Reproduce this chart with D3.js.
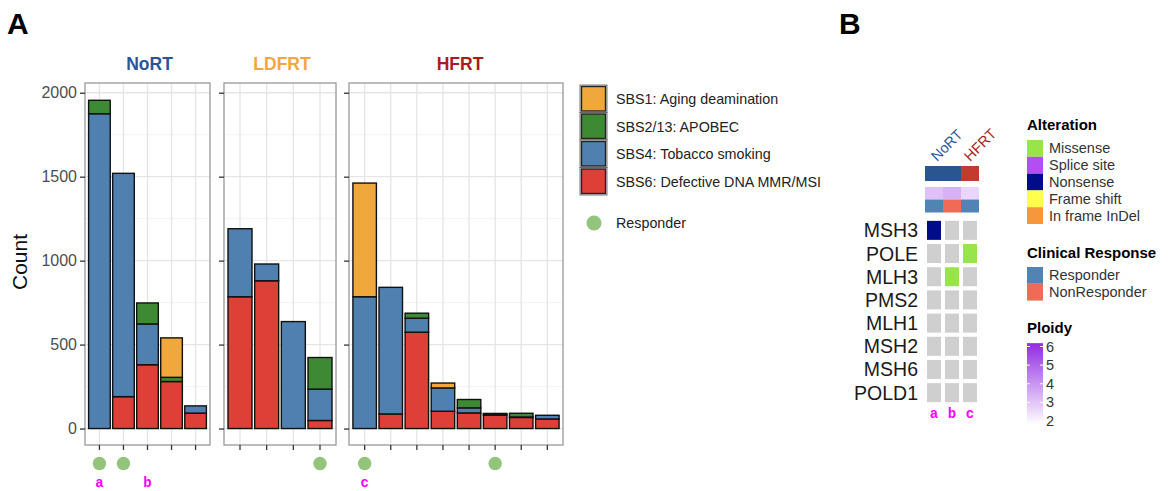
<!DOCTYPE html>
<html>
<head>
<meta charset="utf-8">
<script src="https://cdn.jsdelivr.net/npm/d3@7"></script>
<style>
  body { margin: 0; background: #fff; }
  text { font-family: "Liberation Sans", Arial, sans-serif; }
  .mono { font-family: "Liberation Mono", "DejaVu Sans Mono", monospace; font-weight: bold; }
</style>
</head>
<body>
<svg id="chart" width="1173" height="491"></svg>
<script>
// ---- panel A data ----
var groups = ["NoRT", "LDFRT", "HFRT"];
var samples = ["N1", "N2", "N3", "N4", "N5", "L1", "L2", "L3", "L4",
               "H1", "H2", "H3", "H4", "H5", "H6", "H7", "H8"];
var sampleGroup = ["NoRT", "NoRT", "NoRT", "NoRT", "NoRT",
                   "LDFRT", "LDFRT", "LDFRT", "LDFRT",
                   "HFRT", "HFRT", "HFRT", "HFRT", "HFRT", "HFRT", "HFRT", "HFRT"];
var sbs6    = [0, 190, 380, 280, 92,   785, 880, 0, 48,    0, 87, 574, 103, 93, 80, 66, 57];
var sbs4    = [1875, 1330, 243, 0, 43, 405, 100, 637, 187, 785, 754, 83, 139, 30, 5, 3, 22];
var sbs2_13 = [80, 0, 125, 25, 0,      0, 0, 0, 188,       0, 0, 30, 0, 50, 5, 22, 0];
var sbs1    = [0, 0, 0, 235, 0,        0, 0, 0, 0,         677, 0, 0, 29, 0, 0, 0, 0];
var responder  = [1, 1, 0, 0, 0,  0, 0, 0, 1,  1, 0, 0, 0, 0, 1, 0, 0];
var sampleTags = ["a", "", "b", "", "",  "", "", "", "",  "c", "", "", "", "", "", "", ""];
var signatureLabels = ["SBS1: Aging deamination", "SBS2/13: APOBEC",
                       "SBS4: Tobacco smoking", "SBS6: Defective DNA MMR/MSI"];
var yTicks = [0, 500, 1000, 1500, 2000];

// ---- panel B data ----
var genes = ["MSH3", "POLE", "MLH3", "PMS2", "MLH1", "MSH2", "MSH6", "POLD1"];
var cases = ["a", "b", "c"];
var caseGroup = ["NoRT", "NoRT", "HFRT"];
var casePloidy = [3.2, 3.5, 2.8];
var caseResponse = ["Responder", "NonResponder", "Responder"];
var altGene = ["MSH3", "POLE", "MLH3"];
var altCase = ["a", "c", "b"];
var altType = ["Nonsense", "Missense", "Missense"];
var alterationTypes = ["Missense", "Splice site", "Nonsense", "Frame shift", "In frame InDel"];
var responseTypes = ["Responder", "NonResponder"];
var ploidyTicks = [2, 3, 4, 5, 6];

// colours
var sigColors = ["#F0A83C", "#3E8A34", "#5080B0", "#DE4037"]; // SBS1, SBS2/13, SBS4, SBS6
var groupColors = {NoRT: "#2B5597", LDFRT: "#F5A442", HFRT: "#A81C1C"};
var annGroupColors = {NoRT: "#2A5690", HFRT: "#C23B2F"};
var altColors = ["#97E54A", "#B44EF2", "#000C8A", "#FFFF4D", "#F5973D"];
var respColors = ["#5283B5", "#EE6C55"];
var dotColor = "#92C47C";

var svg = d3.select("#chart");

// ================= PANEL A =================
svg.append("text").attr("x", 7).attr("y", 34)
  .attr("font-size", 30).attr("font-weight", "bold").text("A");

var table = samples.map(function(s, i) {
  return {sample: s, group: sampleGroup[i], responder: responder[i], tag: sampleTags[i],
          sbs6: sbs6[i], sbs4: sbs4[i], sbs2_13: sbs2_13[i], sbs1: sbs1[i]};
});
var stackKeys = ["sbs6", "sbs4", "sbs2_13", "sbs1"];
var keyColor = {sbs6: sigColors[3], sbs4: sigColors[2], sbs2_13: sigColors[1], sbs1: sigColors[0]};
var series = d3.stack().keys(stackKeys)(table);

var panelTop = 83, panelBottom = 445;
var y = d3.scaleLinear().domain([-98, 2058]).range([panelBottom, panelTop]);
var panelX = {NoRT: [85, 210], LDFRT: [224, 336], HFRT: [349, 563]};

groups.forEach(function(g, gi) {
  var ext = panelX[g];
  var gSamples = table.filter(function(d) { return d.group == g; });
  var x = d3.scaleBand().domain(gSamples.map(function(d) { return d.sample; }))
    .range(ext).paddingInner(0.1).paddingOuter(0.15);

  var p = svg.append("g");

  // grid
  var minor = [250, 750, 1250, 1750];
  p.selectAll(".minor").data(minor).enter().append("line")
    .attr("x1", ext[0]).attr("x2", ext[1])
    .attr("y1", function(d) { return y(d); }).attr("y2", function(d) { return y(d); })
    .attr("stroke", "#f0f0f0").attr("stroke-width", 0.8);
  p.selectAll(".major").data(yTicks).enter().append("line")
    .attr("x1", ext[0]).attr("x2", ext[1])
    .attr("y1", function(d) { return y(d); }).attr("y2", function(d) { return y(d); })
    .attr("stroke", "#e5e5e5").attr("stroke-width", 1.3);
  p.selectAll(".vgrid").data(gSamples).enter().append("line")
    .attr("x1", function(d) { return x(d.sample) + x.bandwidth() / 2; })
    .attr("x2", function(d) { return x(d.sample) + x.bandwidth() / 2; })
    .attr("y1", panelTop).attr("y2", panelBottom)
    .attr("stroke", "#e5e5e5").attr("stroke-width", 1.3);

  // bars
  series.forEach(function(s) {
    var segs = s.filter(function(d) { return d.data.group == g && d[1] - d[0] > 0; });
    p.selectAll(".seg-" + s.key).data(segs).enter().append("rect")
      .attr("x", function(d) { return x(d.data.sample); })
      .attr("width", x.bandwidth())
      .attr("y", function(d) { return y(d[1]); })
      .attr("height", function(d) { return y(d[0]) - y(d[1]); })
      .attr("fill", keyColor[s.key])
      .attr("stroke", "#111").attr("stroke-width", 1.4);
  });

  // border
  p.append("rect").attr("x", ext[0]).attr("y", panelTop)
    .attr("width", ext[1] - ext[0]).attr("height", panelBottom - panelTop)
    .attr("fill", "none").attr("stroke", "#999").attr("stroke-width", 1.3);

  // axes
  var ya = p.append("g").attr("transform", "translate(" + ext[0] + ",0)")
    .call(d3.axisLeft(y).tickValues(yTicks).tickSize(5).tickPadding(3)
      .tickFormat(gi == 0 ? d3.format("d") : function() { return ""; }));
  ya.select(".domain").remove();
  ya.selectAll("line").attr("stroke", "#333").attr("stroke-width", 1.3);
  ya.selectAll("text").attr("fill", "#4d4d4d").attr("font-size", 16)
    .attr("font-family", "Liberation Sans, Arial, sans-serif");

  var xa = p.append("g").attr("transform", "translate(0," + panelBottom + ")")
    .call(d3.axisBottom(x).tickSize(5).tickFormat(""));
  xa.select(".domain").remove();
  xa.selectAll("line").attr("stroke", "#333").attr("stroke-width", 1.3);

  // strip label
  p.append("text").attr("x", (ext[0] + ext[1]) / 2 + (g == "HFRT" ? 4 : 2)).attr("y", 70)
    .attr("text-anchor", "middle").attr("font-size", 17.5).attr("font-weight", "bold")
    .attr("fill", groupColors[g]).text(g);

  // responder dots and tags
  p.selectAll(".dot").data(gSamples.filter(function(d) { return d.responder == 1; }))
    .enter().append("circle")
    .attr("cx", function(d) { return x(d.sample) + x.bandwidth() / 2; })
    .attr("cy", 463.5).attr("r", 6.7).attr("fill", dotColor);
  p.selectAll(".tag").data(gSamples.filter(function(d) { return d.tag != ""; }))
    .enter().append("text").attr("class", "mono")
    .attr("x", function(d) { return x(d.sample) + x.bandwidth() / 2; })
    .attr("y", 487).attr("text-anchor", "middle").attr("font-size", 14)
    .attr("fill", "#FF00FF").text(function(d) { return d.tag; });
});

// y title
svg.append("text").attr("transform", "translate(27,262) rotate(-90)")
  .attr("text-anchor", "middle").attr("font-size", 21).attr("fill", "#111").text("Count");

// legend A
var legA = svg.append("g").attr("transform", "translate(580,85)");
signatureLabels.forEach(function(lbl, i) {
  legA.append("rect").attr("x", 0).attr("y", i * 27.5).attr("width", 27).attr("height", 27.5)
    .attr("fill", "#f2f2f2").attr("stroke", "#555").attr("stroke-width", 0.8);
  legA.append("rect").attr("x", 1.5).attr("y", i * 27.5 + 1.5).attr("width", 24).attr("height", 24.5)
    .attr("fill", sigColors[i]).attr("stroke", "#222").attr("stroke-width", 1.4);
  legA.append("text").attr("x", 36).attr("y", i * 27.5 + 14).attr("dy", "0.35em")
    .attr("font-size", 14.3).attr("fill", "#222").text(lbl);
});
legA.append("circle").attr("cx", 14).attr("cy", 138).attr("r", 7.5).attr("fill", dotColor);
legA.append("text").attr("x", 36).attr("y", 138).attr("dy", "0.35em")
  .attr("font-size", 14.3).attr("fill", "#222").text("Responder");

// ================= PANEL B =================
svg.append("text").attr("x", 839).attr("y", 34)
  .attr("font-size", 30).attr("font-weight", "bold").text("B");

var xc = d3.scaleBand().domain(cases).range([925, 979]);
var yg = d3.scaleBand().domain(genes).range([219, 404]).paddingInner(0.18).paddingOuter(0.08);

// group header labels
var headGroups = ["NoRT", "HFRT"];
headGroups.forEach(function(g) {
  var idx = caseGroup.indexOf(g);
  var x0 = xc(cases[idx]) + (g == "NoRT" ? 12 : 9);
  svg.append("text").attr("transform", "translate(" + x0 + ",162) rotate(-45)")
    .attr("font-size", 14.5).attr("fill", groupColors[g]).text(g);
});

// annotation rows
var ploidyColor = d3.scaleLinear().domain([2, 6]).range(["#ffffff", "#9530E4"]);
cases.forEach(function(c, i) {
  svg.append("rect").attr("x", xc(c)).attr("y", 166).attr("width", xc.bandwidth()).attr("height", 15)
    .attr("fill", annGroupColors[caseGroup[i]]);
  svg.append("rect").attr("x", xc(c)).attr("y", 187).attr("width", xc.bandwidth()).attr("height", 12.5)
    .attr("fill", ploidyColor(casePloidy[i]));
  svg.append("rect").attr("x", xc(c)).attr("y", 199.5).attr("width", xc.bandwidth()).attr("height", 13)
    .attr("fill", respColors[responseTypes.indexOf(caseResponse[i])]);
});

// heatmap cells
genes.forEach(function(gname) {
  cases.forEach(function(c) {
    var fill = "#CFCFCF";
    for (var k = 0; k < altGene.length; k++) {
      if (altGene[k] == gname && altCase[k] == c) fill = altColors[alterationTypes.indexOf(altType[k])];
    }
    svg.append("rect").attr("x", xc(c) + 2).attr("y", yg(gname))
      .attr("width", xc.bandwidth() - 4).attr("height", yg.bandwidth()).attr("fill", fill);
  });
  svg.append("text").attr("x", 918).attr("y", yg(gname) + yg.bandwidth() / 2).attr("dy", "0.36em")
    .attr("text-anchor", "end").attr("font-size", 19.5).attr("fill", "#1a1a1a").text(gname);
});
cases.forEach(function(c) {
  svg.append("text").attr("class", "mono").attr("x", xc(c) + xc.bandwidth() / 2).attr("y", 418)
    .attr("text-anchor", "middle").attr("font-size", 14).attr("fill", "#FF00FF").text(c);
});

// legend B
var legB = svg.append("g").attr("transform", "translate(1027,0)");
legB.append("text").attr("x", 0).attr("y", 130).attr("font-size", 15).attr("font-weight", "bold").text("Alteration");
alterationTypes.forEach(function(t, i) {
  legB.append("rect").attr("x", 0).attr("y", 140 + i * 16.8).attr("width", 16).attr("height", 16.8)
    .attr("fill", altColors[i]);
  legB.append("text").attr("x", 22).attr("y", 148.4 + i * 16.8).attr("dy", "0.35em")
    .attr("font-size", 14.5).attr("fill", "#333").text(t);
});
legB.append("text").attr("x", 0).attr("y", 258).attr("font-size", 15).attr("font-weight", "bold").text("Clinical Response");
responseTypes.forEach(function(t, i) {
  legB.append("rect").attr("x", 0).attr("y", 267 + i * 16.8).attr("width", 16).attr("height", 16.8)
    .attr("fill", respColors[i]);
  legB.append("text").attr("x", 22).attr("y", 275.4 + i * 16.8).attr("dy", "0.35em")
    .attr("font-size", 14.5).attr("fill", "#333").text(t);
});
legB.append("text").attr("x", 0).attr("y", 333).attr("font-size", 15).attr("font-weight", "bold").text("Ploidy");

var yp = d3.scaleLinear().domain([2, 6]).range([421, 346.5]);
var grad = svg.append("defs").append("linearGradient").attr("id", "pgrad")
  .attr("x1", 0).attr("y1", 1).attr("x2", 0).attr("y2", 0);
grad.append("stop").attr("offset", "0%").attr("stop-color", ploidyColor(1.9));
grad.append("stop").attr("offset", "100%").attr("stop-color", ploidyColor(6.1));
legB.append("rect").attr("x", 0).attr("y", yp(6.18)).attr("width", 16)
  .attr("height", yp(1.8) - yp(6.18)).attr("fill", "url(#pgrad)");
ploidyTicks.forEach(function(v) {
  legB.append("line").attr("x1", 0).attr("x2", 3).attr("y1", yp(v)).attr("y2", yp(v))
    .attr("stroke", "#fff").attr("stroke-width", 1);
  legB.append("line").attr("x1", 13).attr("x2", 16).attr("y1", yp(v)).attr("y2", yp(v))
    .attr("stroke", "#fff").attr("stroke-width", 1);
  legB.append("text").attr("x", 19).attr("y", yp(v)).attr("dy", "0.35em")
    .attr("font-size", 14.5).attr("fill", "#333").text(v);
});
</script>
</body>
</html>
